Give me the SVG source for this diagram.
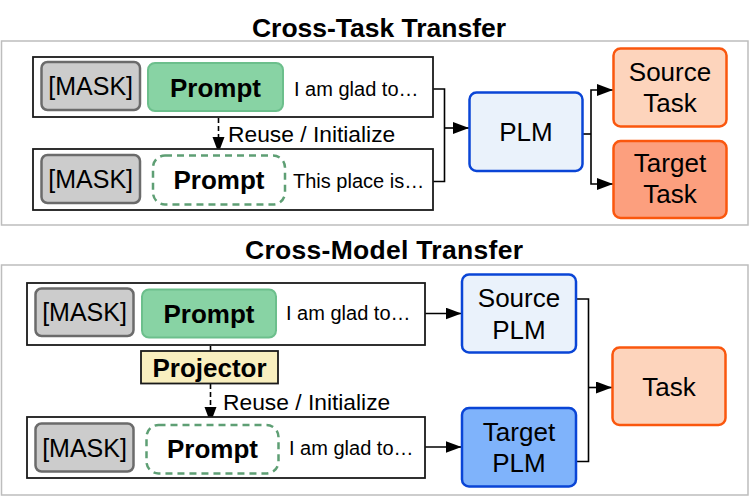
<svg xmlns="http://www.w3.org/2000/svg" width="750" height="496" viewBox="0 0 750 496">
<style>
text{font-family:"Liberation Sans",Arial,Helvetica,sans-serif;fill:#000}
.title{font-size:26.5px;font-weight:bold}
.big{font-size:26px;text-anchor:middle}
.mk{font-size:25px;text-anchor:middle}
.bold{font-size:26px;font-weight:bold;text-anchor:middle}
.sm{font-size:20px}
.lbl{font-size:22.8px}
.panel{fill:#fff;stroke:#bdbdbd;stroke-width:1.5}
.row{fill:#fff;stroke:#1a1a1a;stroke-width:1.8}
.mask{fill:#cccccc;stroke:#6b6b6b;stroke-width:2.5}
.pg{fill:#88d3a4;stroke:#6cbf8c;stroke-width:2}
.pd{fill:#fff;stroke:#5e9f74;stroke-width:2.5;stroke-dasharray:7 5}
.plm{fill:#eaf2fb;stroke:#0a45d6;stroke-width:2.5}
.plm2{fill:#7fb3fb;stroke:#0a45d6;stroke-width:2.5}
.t1{fill:#fdd4bc;stroke:#fa570e;stroke-width:2.5}
.t2{fill:#fc9f7e;stroke:#fa570e;stroke-width:2.5}
.proj{fill:#f9efbf;stroke:#1a1a1a;stroke-width:1.8}
.c{fill:none;stroke:#000;stroke-width:1.6}
.d{fill:none;stroke:#000;stroke-width:1.6;stroke-dasharray:5 3}
</style>
<defs>
<marker id="ah" markerUnits="userSpaceOnUse" markerWidth="17" markerHeight="13" refX="16" refY="6" orient="auto">
<path d="M0,0 L16,6 L0,12 z" fill="#000"/>
</marker>
</defs>

<rect class="panel" x="1.5" y="41" width="746.5" height="184"/>
<rect class="panel" x="1.5" y="265" width="746.5" height="230"/>
<text class="title" x="252" y="36.5" textLength="254">Cross-Task Transfer</text>
<text class="title" x="245" y="259" textLength="278">Cross-Model Transfer</text>

<g id="connectors">
<path class="c" d="M433,89 H444.5 V181.5 H433"/>
<path class="c" d="M444.5,128 H469" marker-end="url(#ah)"/>
<path class="c" d="M583,134 H591"/>
<path class="c" d="M591,134 V90 H613" marker-end="url(#ah)"/>
<path class="c" d="M591,134 V184 H613" marker-end="url(#ah)"/>
<path class="d" d="M218.5,118 V153" marker-end="url(#ah)"/>
<text class="lbl" x="228" y="141.5">Reuse / Initialize</text>

<path class="d" d="M210.5,338 V351"/>
<path class="d" d="M210.5,384 V423" marker-end="url(#ah)"/>
<text class="lbl" x="223" y="410">Reuse / Initialize</text>
<path class="c" d="M425,313.5 H461.5" marker-end="url(#ah)"/>
<path class="c" d="M425,447 H461.5" marker-end="url(#ah)"/>
<path class="c" d="M576,299 H588.5 V461.5 H576"/>
<path class="c" d="M588.5,387.5 H612" marker-end="url(#ah)"/>
</g>

<g id="ct-input1">
<rect class="row" x="33" y="57" width="400" height="60"/>
<rect class="mask" x="41.5" y="62" width="98.5" height="48" rx="6"/>
<text class="mk" x="90.7" y="95">[MASK]</text>
<rect class="pg" x="148" y="63" width="135" height="48" rx="7"/>
<text class="bold" x="215.5" y="96.5">Prompt</text>
<text class="sm" x="294" y="96">I am glad to…</text>
</g>
<g id="ct-input2">
<rect class="row" x="33" y="149" width="400" height="61"/>
<rect class="mask" x="41.5" y="155" width="98.5" height="48" rx="6"/>
<text class="mk" x="90.7" y="188">[MASK]</text>
<rect class="pd" x="153" y="155.5" width="132" height="49" rx="12"/>
<text class="bold" x="219" y="189">Prompt</text>
<text class="sm" x="293" y="188">This place is…</text>
</g>
<g id="ct-plm">
<rect class="plm" x="469.5" y="92.5" width="113" height="78.5" rx="7"/>
<text class="big" x="526" y="140.5">PLM</text>
</g>
<g id="ct-source-task">
<rect class="t1" x="613.5" y="48.5" width="113" height="78" rx="7"/>
<text class="big" x="670" y="80.5">Source</text>
<text class="big" x="670" y="111.5">Task</text>
</g>
<g id="ct-target-task">
<rect class="t2" x="613.5" y="141" width="113" height="77" rx="7"/>
<text class="big" x="670" y="172">Target</text>
<text class="big" x="670" y="203">Task</text>
</g>

<g id="cm-input1">
<rect class="row" x="27" y="283" width="398" height="62"/>
<rect class="mask" x="35.5" y="288.5" width="98" height="47.5" rx="6"/>
<text class="mk" x="84.5" y="320.5">[MASK]</text>
<rect class="pg" x="142" y="289.5" width="134" height="48" rx="7"/>
<text class="bold" x="209" y="323">Prompt</text>
<text class="sm" x="286" y="320">I am glad to…</text>
</g>
<g id="cm-projector">
<rect class="proj" x="141" y="351" width="137" height="32.5"/>
<text class="bold" x="209.5" y="376.5">Projector</text>
</g>
<g id="cm-input2">
<rect class="row" x="27" y="417" width="398" height="61"/>
<rect class="mask" x="35.5" y="423.5" width="98" height="48" rx="6"/>
<text class="mk" x="84.5" y="456.5">[MASK]</text>
<rect class="pd" x="146.5" y="425" width="132" height="48.5" rx="12"/>
<text class="bold" x="212.5" y="458">Prompt</text>
<text class="sm" x="289" y="455">I am glad to…</text>
</g>
<g id="cm-source-plm">
<rect class="plm" x="462" y="274.5" width="114" height="78" rx="7"/>
<text class="big" x="519" y="307">Source</text>
<text class="big" x="519" y="339">PLM</text>
</g>
<g id="cm-target-plm">
<rect class="plm2" x="462" y="408" width="114" height="78.5" rx="7"/>
<text class="big" x="519" y="440.5">Target</text>
<text class="big" x="519" y="472">PLM</text>
</g>
<g id="cm-task">
<rect class="t1" x="612.5" y="347.5" width="113" height="77.5" rx="7"/>
<text class="big" x="669" y="395.5">Task</text>
</g>
</svg>
